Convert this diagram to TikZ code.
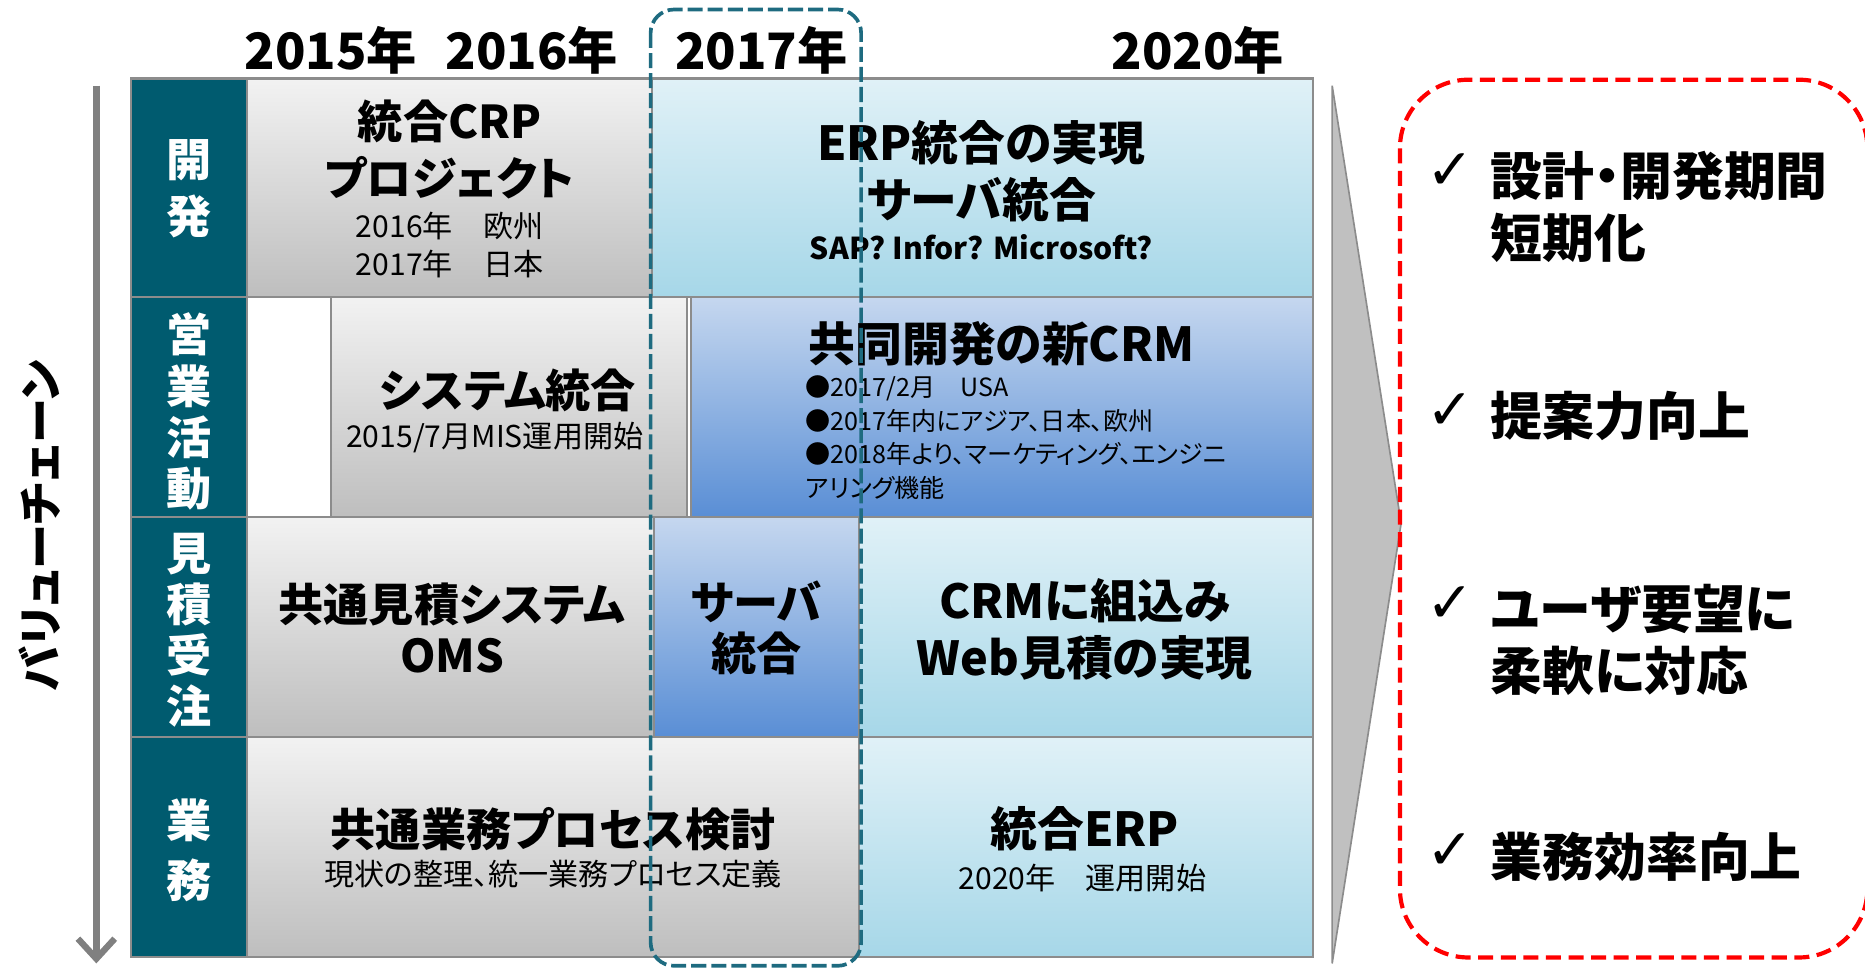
\documentclass[tikz,border=0pt]{standalone}
\usepackage{fontspec}
\setmainfont{Noto Sans CJK JP}[RawFeature=+palt]
\newfontfamily\checkfont{DejaVu Sans}
\usetikzlibrary{arrows.meta}

\definecolor{headteal}{RGB}{0,91,111}
\definecolor{focusteal}{RGB}{30,107,128}
\definecolor{cellline}{RGB}{140,140,140}
\definecolor{grayhi}{RGB}{242,242,242}
\definecolor{graylo}{RGB}{190,190,190}
\definecolor{skyhi}{RGB}{224,241,247}
\definecolor{skylo}{RGB}{166,215,232}
\definecolor{bluehi}{RGB}{197,215,239}
\definecolor{bluelo}{RGB}{89,142,213}
\definecolor{arrowgray}{RGB}{128,128,128}
\definecolor{wedgegray}{RGB}{192,192,192}

\newcommand{\fs}[2]{\fontsize{#1}{#2}\selectfont}

\tikzset{
	cellbox/.style={draw=cellline, line width=1.2pt},
	graycell/.style={cellbox, top color=grayhi, bottom color=graylo},
	skycell/.style={cellbox, top color=skyhi, bottom color=skylo},
	bluecell/.style={cellbox, top color=bluehi, bottom color=bluelo},
	headcell/.style={cellbox, fill=headteal},
	rowhead/.style={text=white, align=center, inner sep=0pt, font=\bfseries\fs{27}{#1}},
	boxtitle/.style={align=center, inner sep=0pt, font=\bfseries\fs{27}{#1}},
	boxtitle/.default=34,
	boxsub/.style={align=center, inner sep=0pt, font=\fs{18}{23}},
	yearlabel/.style={inner sep=0pt, font=\bfseries\fs{30}{36}},
	goaltext/.style={anchor=west, align=left, inner sep=0pt, font=\bfseries\fs{31}{37}},
	tick/.style={inner sep=0pt, font=\checkfont\fs{34}{40}},
	focusbox/.style={draw=focusteal, line width=2.2pt, dash pattern=on 9pt off 3pt, rounded corners=14pt},
	goalbox/.style={draw=red, line width=2.5pt, dash pattern=on 9pt off 4.5pt, rounded corners=41pt},
	wedge/.style={draw=cellline, line width=1pt, fill=wedgegray},
	chainarrow/.style={draw=arrowgray, line width=3.8pt, -{Straight Barb[length=12pt, width=22pt]}}
}

\begin{document}
\begin{tikzpicture}[x=0.025cm, y=-0.025cm]
	\useasboundingbox (0,0) rectangle (1568,815);
	\clip (0,0) rectangle (1568,815);

	\node[yearlabel] (y15) at (278,42) {2015年};
	\node[yearlabel] (y16) at (447,42) {2016年};
	\node[yearlabel] (y17) at (640,42) {2017年};
	\node[yearlabel] (y20) at (1007,42) {2020年};

	\node[rotate=90, inner sep=0pt, font=\bfseries\fs{27}{32}] (chain) at (33,442) {バリューチェーン};
	\coordinate (chaintop) at (81,72);
	\coordinate (chainend) at (81,810);
	\draw[chainarrow] (chaintop) -- (chainend);

	\draw[headcell] (110,66) rectangle (208,250);
	\draw[headcell] (110,250) rectangle (208,435);
	\draw[headcell] (110,435) rectangle (208,620);
	\draw[headcell] (110,620) rectangle (208,805);
	\node[rowhead=34] (dev) at (159,159) {開\\発};
	\node[rowhead=30.6] (sales) at (159,346) {営\\業\\活\\動};
	\node[rowhead=30.6] (quote) at (159,530) {見\\積\\受\\注};
	\node[rowhead=35.5] (ops) at (159,715) {業\\務};

	\draw[graycell] (208,66) rectangle (548,250);
	\draw[skycell] (548,66) rectangle (1104,250);
	\draw[graycell] (278,250) rectangle (578,435);
	\draw[bluecell] (581,250) rectangle (1104,435);
	\draw[graycell] (208,435) rectangle (550,620);
	\draw[bluecell] (550,435) rectangle (722,620);
	\draw[skycell] (722,435) rectangle (1104,620);
	\draw[graycell] (208,620) rectangle (722,805);
	\draw[skycell] (722,620) rectangle (1104,805);

	\node[boxtitle] (crp) at (378,126) {統合CRP\\プロジェクト};
	\node[boxsub] (crpsub) at (378,206) {2016年　欧州\\2017年　日本};
	\node[boxtitle, font=\bfseries\fs{28}{34}] (erp) at (825,144) {ERP統合の実現\\サーバ統合};
	\node[boxsub, font=\bfseries\fs{18}{23}] (erpsub) at (825,208) {SAP? Infor? Microsoft?};

	\node[boxtitle] (sys) at (427,328) {システム統合};
	\node[boxsub] (syssub) at (416,368) {2015/7月MIS運用開始};
	\node[boxtitle, font=\bfseries\fs{28}{34}] (crm) at (842,289) {共同開発の新CRM};
	\node[anchor=west, align=left, inner sep=0pt, font=\fs{15}{20}] (crmsub) at (677,368)
		{●2017/2月　USA\\●2017年内にアジア、日本、欧州\\●2018年より、マーケティング、エンジニ\\アリング機能};

	\node[boxtitle=30.6] (oms) at (380,528) {共通見積システム\\OMS};
	\node[boxtitle=30.6] (srv) at (636,528) {サーバ\\統合};
	\node[boxtitle, font=\bfseries\fs{28}{34}] (web) at (912,529) {CRMに組込み\\Web見積の実現};

	\node[boxtitle] (proc) at (465,697) {共通業務プロセス検討};
	\node[boxsub] (procsub) at (465,735) {現状の整理、統一業務プロセス定義};
	\node[boxtitle, font=\bfseries\fs{28}{34}] (erp2) at (912,697) {統合ERP};
	\node[boxsub] (erp2sub) at (910,738) {2020年　運用開始};

	\draw[focusbox] (547,8) rectangle (724,812);

	\draw[wedge] (1120,72) -- (1178,440) -- (1120,810) -- cycle;
	\draw[goalbox] (1177,67) rectangle (1570,805);

	\node[tick] (t1) at (1219,144) {✓};
	\node[goaltext] (g1) at (1253,174) {設計・開発期間\\短期化};
	\node[tick] (t2) at (1219,346) {✓};
	\node[goaltext] (g2) at (1253,350) {提案力向上};
	\node[tick] (t3) at (1219,508) {✓};
	\node[goaltext] (g3) at (1253,538) {ユーザ要望に\\柔軟に対応};
	\node[tick] (t4) at (1219,716) {✓};
	\node[goaltext] (g4) at (1253,720) {業務効率向上};
\end{tikzpicture}
\end{document}
